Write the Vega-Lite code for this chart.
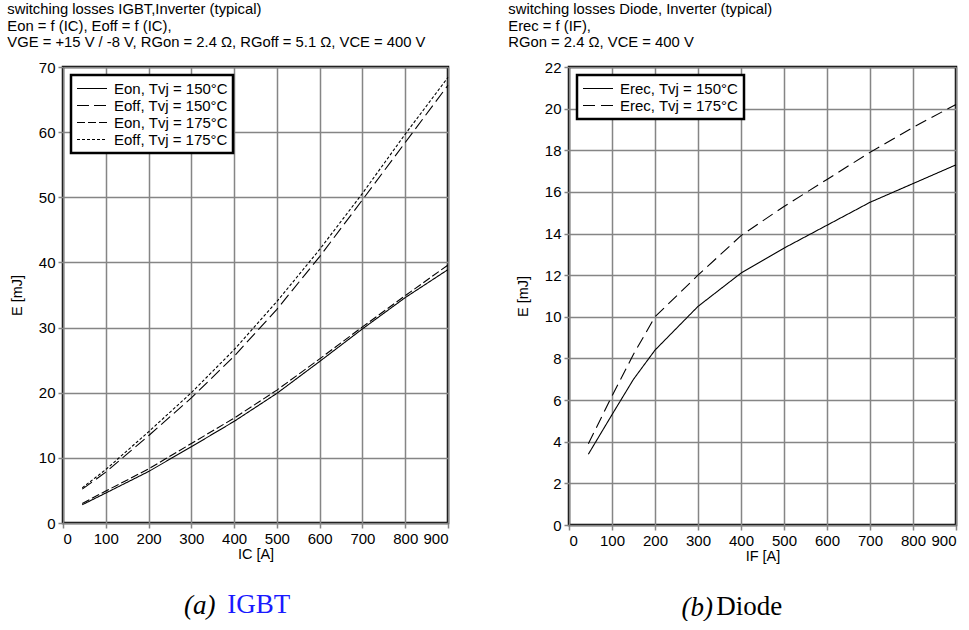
{
  "$schema": "https://vega.github.io/schema/vega-lite/v6.json",
  "padding": {"left": 6, "top": 0, "right": 0, "bottom": 0},
  "background": "white",
  "datasets": {
    "igbt": [
      {"I": 45, "E": 2.8, "s": "Eon, Tvj = 150°C"},
      {"I": 100, "E": 4.6, "s": "Eon, Tvj = 150°C"},
      {"I": 200, "E": 7.9, "s": "Eon, Tvj = 150°C"},
      {"I": 300, "E": 11.7, "s": "Eon, Tvj = 150°C"},
      {"I": 400, "E": 15.6, "s": "Eon, Tvj = 150°C"},
      {"I": 500, "E": 19.9, "s": "Eon, Tvj = 150°C"},
      {"I": 600, "E": 24.8, "s": "Eon, Tvj = 150°C"},
      {"I": 700, "E": 29.8, "s": "Eon, Tvj = 150°C"},
      {"I": 800, "E": 34.6, "s": "Eon, Tvj = 150°C"},
      {"I": 900, "E": 38.9, "s": "Eon, Tvj = 150°C"},
      {"I": 45, "E": 5.2, "s": "Eoff, Tvj = 150°C"},
      {"I": 100, "E": 7.8, "s": "Eoff, Tvj = 150°C"},
      {"I": 200, "E": 13.4, "s": "Eoff, Tvj = 150°C"},
      {"I": 300, "E": 19.2, "s": "Eoff, Tvj = 150°C"},
      {"I": 400, "E": 25.6, "s": "Eoff, Tvj = 150°C"},
      {"I": 500, "E": 32.8, "s": "Eoff, Tvj = 150°C"},
      {"I": 600, "E": 40.9, "s": "Eoff, Tvj = 150°C"},
      {"I": 700, "E": 49.6, "s": "Eoff, Tvj = 150°C"},
      {"I": 800, "E": 58.4, "s": "Eoff, Tvj = 150°C"},
      {"I": 900, "E": 67.2, "s": "Eoff, Tvj = 150°C"},
      {"I": 45, "E": 3.0, "s": "Eon, Tvj = 175°C"},
      {"I": 100, "E": 4.9, "s": "Eon, Tvj = 175°C"},
      {"I": 200, "E": 8.3, "s": "Eon, Tvj = 175°C"},
      {"I": 300, "E": 12.2, "s": "Eon, Tvj = 175°C"},
      {"I": 400, "E": 16.1, "s": "Eon, Tvj = 175°C"},
      {"I": 500, "E": 20.4, "s": "Eon, Tvj = 175°C"},
      {"I": 600, "E": 25.2, "s": "Eon, Tvj = 175°C"},
      {"I": 700, "E": 30.1, "s": "Eon, Tvj = 175°C"},
      {"I": 800, "E": 34.9, "s": "Eon, Tvj = 175°C"},
      {"I": 900, "E": 39.6, "s": "Eon, Tvj = 175°C"},
      {"I": 45, "E": 5.4, "s": "Eoff, Tvj = 175°C"},
      {"I": 100, "E": 8.2, "s": "Eoff, Tvj = 175°C"},
      {"I": 200, "E": 14.0, "s": "Eoff, Tvj = 175°C"},
      {"I": 300, "E": 20.0, "s": "Eoff, Tvj = 175°C"},
      {"I": 400, "E": 26.6, "s": "Eoff, Tvj = 175°C"},
      {"I": 500, "E": 34.0, "s": "Eoff, Tvj = 175°C"},
      {"I": 600, "E": 42.0, "s": "Eoff, Tvj = 175°C"},
      {"I": 700, "E": 50.6, "s": "Eoff, Tvj = 175°C"},
      {"I": 800, "E": 59.7, "s": "Eoff, Tvj = 175°C"},
      {"I": 900, "E": 68.4, "s": "Eoff, Tvj = 175°C"}
    ],
    "diode": [
      {"I": 45, "E": 3.4, "s": "Erec, Tvj = 150°C"},
      {"I": 100, "E": 5.3, "s": "Erec, Tvj = 150°C"},
      {"I": 150, "E": 7.0, "s": "Erec, Tvj = 150°C"},
      {"I": 200, "E": 8.4, "s": "Erec, Tvj = 150°C"},
      {"I": 300, "E": 10.5, "s": "Erec, Tvj = 150°C"},
      {"I": 400, "E": 12.1, "s": "Erec, Tvj = 150°C"},
      {"I": 500, "E": 13.3, "s": "Erec, Tvj = 150°C"},
      {"I": 600, "E": 14.4, "s": "Erec, Tvj = 150°C"},
      {"I": 700, "E": 15.5, "s": "Erec, Tvj = 150°C"},
      {"I": 800, "E": 16.4, "s": "Erec, Tvj = 150°C"},
      {"I": 900, "E": 17.3, "s": "Erec, Tvj = 150°C"},
      {"I": 45, "E": 3.9, "s": "Erec, Tvj = 175°C"},
      {"I": 100, "E": 6.2, "s": "Erec, Tvj = 175°C"},
      {"I": 150, "E": 8.2, "s": "Erec, Tvj = 175°C"},
      {"I": 200, "E": 10.0, "s": "Erec, Tvj = 175°C"},
      {"I": 300, "E": 12.0, "s": "Erec, Tvj = 175°C"},
      {"I": 400, "E": 13.9, "s": "Erec, Tvj = 175°C"},
      {"I": 500, "E": 15.3, "s": "Erec, Tvj = 175°C"},
      {"I": 600, "E": 16.6, "s": "Erec, Tvj = 175°C"},
      {"I": 700, "E": 17.9, "s": "Erec, Tvj = 175°C"},
      {"I": 800, "E": 19.1, "s": "Erec, Tvj = 175°C"},
      {"I": 900, "E": 20.2, "s": "Erec, Tvj = 175°C"}
    ]
  },
  "config": {
    "font": "Liberation Sans",
    "view": {"stroke": "black", "strokeWidth": 2.5},
    "axis": {
      "domain": false,
      "grid": true,
      "gridColor": "#858585",
      "gridWidth": 1.5,
      "gridOpacity": 1,
      "tickColor": "#858585",
      "tickSize": 5,
      "tickWidth": 1.5,
      "labelFontSize": 15,
      "labelColor": "black",
      "labelPadding": 3,
      "labelFont": "Liberation Sans",
      "titleFont": "Liberation Sans",
      "titleFontSize": 14.5,
      "titleFontWeight": "normal",
      "titleColor": "black"
    },
    "legend": {
      "orient": "top-left",
      "offset": 8,
      "title": null,
      "strokeColor": "black",
      "strokeWidth": 2.5,
      "fillColor": "white",
      "padding": 5,
      "rowPadding": -1.5,
      "symbolType": "M-1,0H3",
      "symbolSize": 225,
      "symbolStrokeWidth": 1.2,
      "symbolStrokeColor": "black",
      "labelFontSize": 15,
      "labelFont": "Liberation Sans",
      "labelColor": "black",
      "labelLimit": 400,
      "labelOffset": 21
    }
  },
  "resolve": {"scale": {"strokeDash": "independent", "x": "independent", "y": "independent"}},
  "spacing": 55,
  "hconcat": [
    {
      "title": {"text": "IGBT", "orient": "bottom", "anchor": "middle", "font": "Liberation Serif", "fontSize": 27, "fontWeight": "normal", "color": "#1a1aff", "dx": 30, "dy": -31},
      "vconcat": [
        {
          "title": {"text": "(a)", "orient": "bottom", "anchor": "middle", "font": "Liberation Serif", "fontStyle": "italic", "fontSize": 27, "fontWeight": "normal", "color": "black", "dx": -29, "offset": 31},
          "vconcat": [
            {
              "title": {"text": ["switching losses IGBT,Inverter (typical)", "Eon = f (IC), Eoff = f (IC),", "VGE = +15 V / -8 V, RGon = 2.4 Ω, RGoff = 5.1 Ω, VCE = 400 V"], "anchor": "start", "frame": "bounds", "font": "Liberation Sans", "fontSize": 14.8, "fontWeight": "normal", "lineHeight": 16.5, "color": "black", "offset": 10, "dx": -2},
              "width": 385,
              "height": 456,
              "data": {"name": "igbt"},
              "mark": {"type": "line", "color": "black", "strokeWidth": 1.1},
              "encoding": {
                "x": {"field": "I", "type": "quantitative", "title": "IC [A]", "scale": {"domain": [0, 900], "nice": false}, "axis": {"values": [0, 100, 200, 300, 400, 500, 600, 700, 800, 900], "titlePadding": 1}},
                "y": {"field": "E", "type": "quantitative", "title": "E [mJ]", "scale": {"domain": [0, 70], "nice": false}, "axis": {"values": [0, 10, 20, 30, 40, 50, 60, 70], "titlePadding": 14}},
                "strokeDash": {"field": "s", "type": "nominal", "sort": null,
                  "scale": {"domain": ["Eon, Tvj = 150°C", "Eoff, Tvj = 150°C", "Eon, Tvj = 175°C", "Eoff, Tvj = 175°C"], "range": [[1, 0], [12, 5], [8, 3], [3, 2]]}}
              }
            }
          ]
        }
      ]
    },
    {
      "title": {"text": "Diode", "orient": "bottom", "anchor": "middle", "font": "Liberation Serif", "fontSize": 27, "fontWeight": "normal", "color": "black", "dx": 16, "dy": -31},
      "vconcat": [
        {
          "title": {"text": "(b)", "orient": "bottom", "anchor": "middle", "font": "Liberation Serif", "fontStyle": "italic", "fontSize": 27, "fontWeight": "normal", "color": "black", "dx": -36, "offset": 31},
          "vconcat": [
            {
              "title": {"text": ["switching losses Diode, Inverter (typical)", "Erec = f (IF),", "RGon = 2.4 Ω, VCE = 400 V"], "anchor": "start", "frame": "bounds", "font": "Liberation Sans", "fontSize": 14.8, "fontWeight": "normal", "lineHeight": 16.5, "color": "black", "offset": 10, "dx": -7},
              "width": 387,
              "height": 458,
              "data": {"name": "diode"},
              "mark": {"type": "line", "color": "black", "strokeWidth": 1.1},
              "encoding": {
                "x": {"field": "I", "type": "quantitative", "title": "IF [A]", "scale": {"domain": [0, 900], "nice": false}, "axis": {"values": [0, 100, 200, 300, 400, 500, 600, 700, 800, 900], "titlePadding": 1}},
                "y": {"field": "E", "type": "quantitative", "title": "E [mJ]", "scale": {"domain": [0, 22], "nice": false}, "axis": {"values": [0, 2, 4, 6, 8, 10, 12, 14, 16, 18, 20, 22], "titlePadding": 14}},
                "strokeDash": {"field": "s", "type": "nominal", "sort": null,
                  "scale": {"domain": ["Erec, Tvj = 150°C", "Erec, Tvj = 175°C"], "range": [[1, 0], [12, 6]]}}
              }
            }
          ]
        }
      ]
    }
  ]
}
